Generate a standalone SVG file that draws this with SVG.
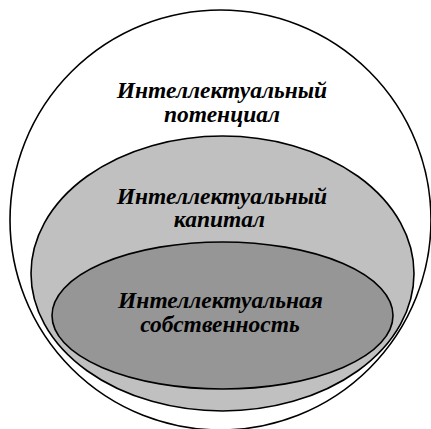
<svg xmlns="http://www.w3.org/2000/svg" width="431" height="429" viewBox="0 0 431 429">
<rect width="431" height="429" fill="#fff"/>
<ellipse cx="220.5" cy="220" rx="210.5" ry="210" fill="#fff" stroke="#000" stroke-width="1.6"/>
<ellipse cx="222.5" cy="273.5" rx="191.5" ry="137.5" fill="#c0c0c0" stroke="#000" stroke-width="1.6"/>
<ellipse cx="222.5" cy="315.5" rx="170.5" ry="73.5" fill="#969696" stroke="#000" stroke-width="1.6"/>
<text x="222" y="98" font-family="Liberation Serif" font-style="italic" font-weight="bold" font-size="23.5px" text-anchor="middle">Интеллектуальный</text>
<text x="222" y="122" font-family="Liberation Serif" font-style="italic" font-weight="bold" font-size="23.5px" text-anchor="middle">потенциал</text>
<text x="222" y="204" font-family="Liberation Serif" font-style="italic" font-weight="bold" font-size="23.5px" text-anchor="middle">Интеллектуальный</text>
<text x="219.5" y="227" font-family="Liberation Serif" font-style="italic" font-weight="bold" font-size="23.5px" text-anchor="middle">капитал</text>
<text x="220.5" y="308" font-family="Liberation Serif" font-style="italic" font-weight="bold" font-size="23.5px" text-anchor="middle">Интеллектуальная</text>
<text x="220" y="332" font-family="Liberation Serif" font-style="italic" font-weight="bold" font-size="23.5px" text-anchor="middle">собственность</text>
</svg>
